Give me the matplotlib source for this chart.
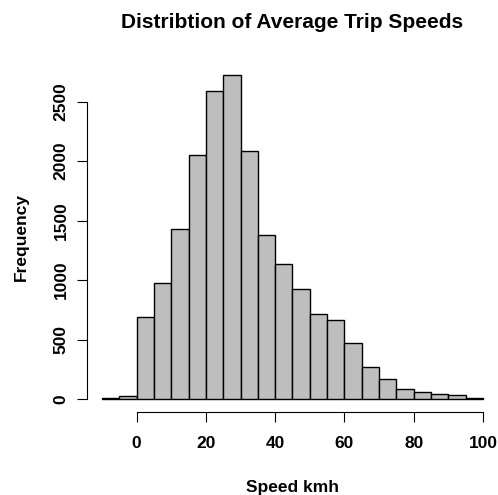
import numpy as np
import matplotlib.pyplot as plt

plt.rcParams['font.family'] = ['Liberation Sans', 'DejaVu Sans']

# bin edges (km/h) and counts
bin_edges = np.arange(-10, 101, 5)
counts = [11, 22, 692, 973, 1432, 2049, 2593, 2722, 2088, 1382, 1135,
          928, 718, 664, 474, 266, 165, 84, 56, 39, 31, 11]
x_ticks = [0, 20, 40, 60, 80, 100]
y_ticks = [0, 500, 1000, 1500, 2000, 2500]

fig = plt.figure(figsize=(4.98, 4.95), dpi=100)
ax = fig.add_axes([0.1743, 0.1677, 0.826, 0.7063])

ax.bar(bin_edges[:-1], counts, width=5, align='edge',
       color='#BEBEBE', edgecolor='black', linewidth=1)

# R style: 4% padding around data range
xr = bin_edges[-1] - bin_edges[0]
ax.set_xlim(bin_edges[0] - 0.04 * xr, bin_edges[-1] + 0.04 * xr)
ymax = max(counts)
ax.set_ylim(-0.04 * ymax, ymax * 1.04)

for s in ['top', 'right']:
    ax.spines[s].set_visible(False)
ax.spines['bottom'].set_bounds(0, 100)
ax.spines['left'].set_bounds(0, 2500)

ax.set_xticks(x_ticks)
ax.set_yticks(y_ticks)
ax.set_xticklabels([str(t) for t in x_ticks], fontsize=12.5, fontweight='bold')
ax.set_yticklabels([str(t) for t in y_ticks], fontsize=12.5, fontweight='bold',
                   rotation=90, va='center')
ax.tick_params(axis='x', length=7.2, width=0.8, pad=10)
ax.tick_params(axis='y', length=7.2, width=0.8, pad=6)

ax.set_xlabel('Speed kmh', fontsize=12.5, fontweight='bold', labelpad=21)
ax.set_ylabel('Frequency', fontsize=12.5, fontweight='bold', labelpad=18)
fig.text(0.587, 0.955, 'Distribtion of Average Trip Speeds', ha='center',
         va='center', fontsize=15, fontweight='bold')

fig.savefig('out.png', dpi=100)
